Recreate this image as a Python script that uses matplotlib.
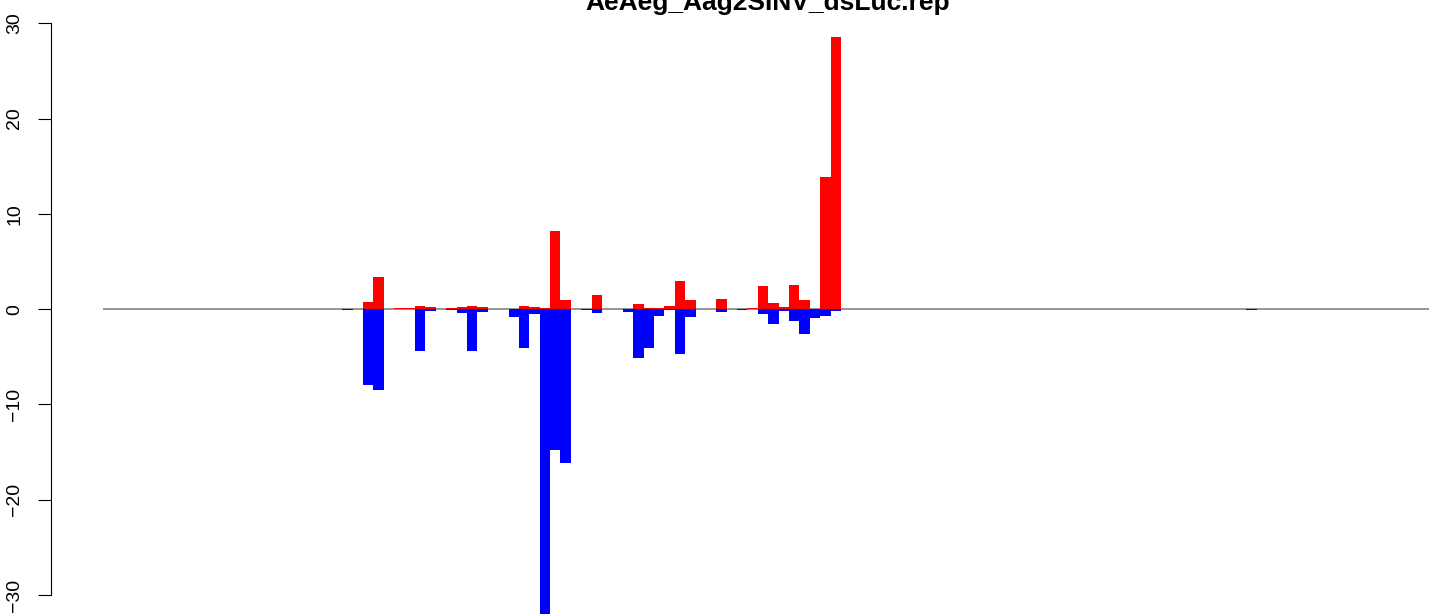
import numpy as np
import matplotlib
matplotlib.use("Agg")
import matplotlib.pyplot as plt

plt.rcParams['font.family'] = ['Liberation Sans', 'DejaVu Sans']

# === Chart data ===
TITLE = "AeAeg_Aag2SINV_dsLuc.rep"

# bar slot index (0 = first slot at the start of the zero line)
positions = [23, 25, 26, 28, 29, 30, 31, 33, 34, 35, 36, 39, 40, 41, 42, 43,
             44, 46, 47, 50, 51, 52, 53, 54, 55, 56, 59, 61, 62, 63, 64, 65,
             66, 67, 68, 69, 70, 110]

# positive strand (red)
red_values = [0.0, 0.75, 3.37, 0.1, 0.1, 0.33, 0.22, 0.1, 0.2, 0.33, 0.22,
              0.0, 0.33, 0.22, 0.12, 8.19, 0.95, 0.0, 1.48, 0.0, 0.53, 0.12,
              0.12, 0.33, 2.95, 0.95, 1.06, 0.0, 0.12, 2.42, 0.64, 0.22,
              2.53, 0.95, 0.05, 13.85, 28.55, 0.0]

# negative strand (blue)
blue_values = [-0.1, -7.93, -8.45, 0.0, 0.0, -4.36, -0.17, -0.05, -0.37,
               -4.36, -0.27, -0.8, -4.05, -0.48, -33.0, -14.8, -16.1, -0.1,
               -0.41, -0.3, -5.1, -4.08, -0.72, -0.1, -4.7, -0.83, -0.3,
               -0.1, 0.0, -0.51, -1.56, -0.15, -1.25, -2.61, -0.93, -0.7,
               -0.2, -0.05]

y_ticks = [-30, -20, -10, 0, 10, 20, 30]
n_slots = 128

# === Layout (pixels of the 1429x614 output) ===
FIG_W, FIG_H, DPI = 1429, 614, 100
AXIS_X_PX = 51          # y axis line
SLOT0_PX = 103.3        # left edge of slot 0
SLOT_W_PX = 10.39
ZERO_PX = 309.1         # y pixel of value 0
UNIT_PX = 9.53          # pixels per unit on y


def plot_bars():
    fig = plt.figure(figsize=(FIG_W / DPI, FIG_H / DPI), dpi=DPI)
    ax = fig.add_axes([AXIS_X_PX / FIG_W, 0, 1 - AXIS_X_PX / FIG_W, 1])

    x_left = (AXIS_X_PX - SLOT0_PX) / SLOT_W_PX
    x_right = (FIG_W - SLOT0_PX) / SLOT_W_PX
    ax.set_xlim(x_left, x_right)
    ax.set_ylim((ZERO_PX - FIG_H) / UNIT_PX, ZERO_PX / UNIT_PX)

    # zero line under the bars
    ax.hlines(0, 0, n_slots, color='#8c8c8c', linewidth=1.3, zorder=1)

    ax.bar(positions, red_values, width=1.0, align='edge',
           color='#ff0000', linewidth=0, zorder=2)
    ax.bar(positions, blue_values, width=1.0, align='edge',
           color='#0000ff', linewidth=0, zorder=2)

    # R-style axis: only the left one, bounded to the tick range
    for side in ['top', 'right', 'bottom']:
        ax.spines[side].set_visible(False)
    ax.spines['left'].set_bounds(y_ticks[0], y_ticks[-1])
    ax.spines['left'].set_linewidth(0.8)
    ax.set_xticks([])
    ax.set_yticks(y_ticks)
    ax.set_yticklabels([str(t).replace('-', '\u2212') for t in y_ticks],
                       rotation=90, va='center')
    ax.tick_params(axis='y', length=9.4, width=0.8, pad=10.5, labelsize=14)
    ax.patch.set_visible(False)

    fig.text(768 / FIG_W, 1 - 10 / FIG_H, TITLE, ha='center', va='baseline',
             fontsize=19, fontweight='bold')

    fig.savefig("out.png", dpi=DPI)


def main():
    plot_bars()


if __name__ == "__main__":
    main()
